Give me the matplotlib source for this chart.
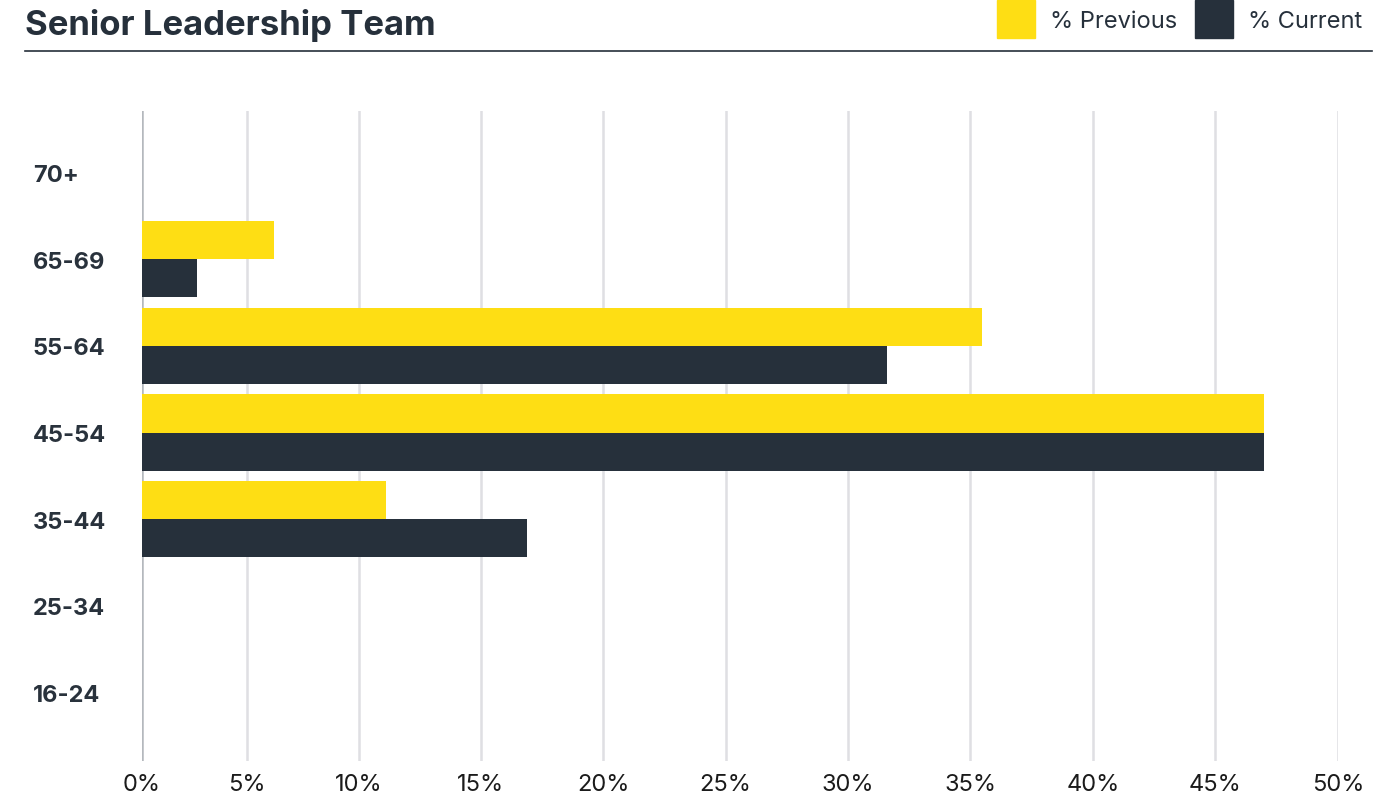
import numpy as np
import matplotlib.pyplot as plt
from matplotlib.patches import Rectangle
from matplotlib.lines import Line2D

plt.rcParams['font.family'] = ['Inter', 'DejaVu Sans']

ages = ['16-24', '25-34', '35-44', '45-54', '55-64', '65-69', '70+']
previous = [0, 0, 11.1, 47.0, 35.5, 6.2, 0]
current = [0, 0, 16.9, 47.0, 31.6, 2.6, 0]
ticks = [0, 5, 10, 15, 20, 25, 30, 35, 40, 45, 50]

YELLOW = '#FEDE14'
DARK = '#26303B'

# axis spacing used by the original layout (narrower steps below 10%)
tick_pos = np.array([0, 105, 217, 338.5, 461, 583.5, 706, 828, 951, 1073, 1196])


def fwd(v):
    return np.interp(v, ticks, tick_pos)


def inv(p):
    return np.interp(p, tick_pos, ticks)


fig = plt.figure(figsize=(13.95, 8.04), dpi=100)
ax = fig.add_axes([142 / 1395, 1 - 762 / 804, 1196 / 1395, 650 / 804])
ax.set_xscale('function', functions=(fwd, inv))

y = np.arange(len(ages))
h = 0.44
ax.barh(y + h / 2, previous, height=h, color=YELLOW, zorder=3)
ax.barh(y - h / 2, current, height=h, color=DARK, zorder=3)

ax.set_xlim(0, 50)
ax.set_ylim(-0.79, 6.71)
ax.set_xticks(ticks)
ax.set_xticklabels([f'{t}%' for t in ticks], fontsize=17, color='#1b1b1b')
ax.set_yticks(y)
ax.set_yticklabels(ages, fontsize=17, fontweight='bold', color='#29323C')
for lab in ax.get_yticklabels():
    lab.set_horizontalalignment('left')
ax.tick_params(axis='y', length=0, pad=78.5)
ax.tick_params(axis='x', length=0, pad=9)

for t in ticks:
    ax.axvline(t, color='#B4B8BD' if t == 0 else '#DFDFE3', lw=1.8, zorder=1)
for s in ax.spines.values():
    s.set_visible(False)

fig.text(25 / 1395, 1 - 26 / 804, 'Senior Leadership Team', fontsize=25,
         fontweight='bold', color=DARK, va='center', ha='left')
fig.add_artist(Line2D([25 / 1395, 1372 / 1395], [1 - 52 / 804] * 2,
                      color=DARK, lw=1.2))

# legend
for x0, lab, c in [(997, '% Previous', YELLOW), (1195, '% Current', DARK)]:
    fig.add_artist(Rectangle((x0 / 1395, 1 - 39 / 804), 38 / 1395, 38 / 804,
                             color=c, transform=fig.transFigure))
    fig.text((x0 + 53) / 1395, 1 - 22 / 804, lab, fontsize=17, color=DARK,
             va='center', ha='left')

fig.savefig('out.png', dpi=100)
